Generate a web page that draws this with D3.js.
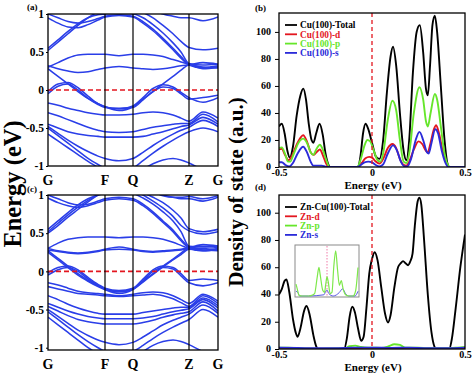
<!DOCTYPE html>
<html><head><meta charset="utf-8">
<script src="https://cdn.jsdelivr.net/npm/d3@7"></script>
<style>
body{margin:0;background:#fff}
svg{display:block}
text{font-family:"Liberation Serif","Times New Roman",serif;font-weight:bold}
</style>
</head><body>
<svg id="chart" width="474" height="373"></svg>
<script>
// ---------- data ----------
const kPoints = [0,10,20,30,40,50,57,71,85,95,105,115,125,133,141,155,170];
const kTickPos = [0,57,85,141,170];
const kTickLabels = ["G","F","Q","Z","G"];
const bandTicks = [-1,-0.5,0,0.5,1];

const bandsA = [
 [1.0,0.95,0.9,0.88,0.9,0.94,0.97,0.99,0.97,0.9,0.8,0.68,0.55,0.44,0.34,0.3,0.32],
 [0.95,0.88,0.83,0.82,0.86,0.92,0.96,0.98,0.96,0.88,0.78,0.66,0.53,0.42,0.33,0.29,0.31],
 [0.55,0.66,0.77,0.87,0.95,0.99,1.0,1.01,1.0,0.95,0.86,0.75,0.62,0.5,0.35,0.33,0.34],
 [0.52,0.63,0.74,0.85,0.95,1.03,1.08,1.1,1.08,1.02,0.95,0.85,0.74,0.64,0.56,0.53,0.55],
 [1.15,1.1,1.08,1.05,1.05,1.06,1.07,1.1,1.12,1.1,1.05,1.0,0.97,0.95,0.95,0.91,0.96],
 [0.3,0.36,0.42,0.46,0.47,0.47,0.47,0.45,0.47,0.47,0.46,0.44,0.4,0.37,0.34,0.28,0.3],
 [0.32,0.28,0.25,0.23,0.24,0.27,0.29,0.31,0.29,0.28,0.27,0.28,0.3,0.32,0.33,0.36,0.34],
 [0.28,0.18,0.08,-0.02,-0.11,-0.18,-0.22,-0.27,-0.22,-0.12,-0.02,0.08,0.18,0.26,0.33,0.3,0.29],
 [-0.02,0.08,0.1,0.03,-0.08,-0.18,-0.22,-0.25,-0.21,-0.1,0.02,0.07,0.04,-0.03,-0.1,-0.16,-0.1],
 [-0.05,0.05,0.08,0.0,-0.11,-0.19,-0.23,-0.24,-0.23,-0.13,-0.02,0.04,0.02,-0.05,-0.12,-0.1,-0.07],
 [-0.17,-0.2,-0.24,-0.27,-0.3,-0.32,-0.33,-0.33,-0.32,-0.3,-0.29,-0.3,-0.33,-0.37,-0.41,-0.29,-0.37],
 [-0.3,-0.34,-0.39,-0.44,-0.49,-0.53,-0.55,-0.56,-0.55,-0.52,-0.49,-0.47,-0.45,-0.44,-0.44,-0.32,-0.42],
 [-0.45,-0.5,-0.55,-0.58,-0.6,-0.61,-0.62,-0.62,-0.62,-0.61,-0.58,-0.55,-0.51,-0.48,-0.46,-0.36,-0.45],
 [-0.48,-0.57,-0.66,-0.74,-0.81,-0.87,-0.9,-0.93,-0.9,-0.82,-0.73,-0.65,-0.58,-0.53,-0.49,-0.4,-0.48],
 [-0.5,-0.6,-0.7,-0.8,-0.9,-0.98,-1.03,-1.1,-1.03,-0.93,-0.83,-0.74,-0.66,-0.6,-0.55,-0.5,-0.55],
 [-0.58,-0.67,-0.76,-0.85,-0.94,-1.02,-1.08,-1.15,-1.1,-1.04,-0.97,-0.92,-0.9,-0.92,-0.96,-1.05,-1.1]
];

const bandsC = [
 [1.0,0.95,0.9,0.87,0.88,0.92,0.95,0.97,0.95,0.88,0.78,0.66,0.54,0.42,0.32,0.28,0.3],
 [0.96,0.9,0.86,0.84,0.86,0.9,0.93,0.95,0.93,0.86,0.76,0.64,0.52,0.4,0.31,0.27,0.29],
 [0.55,0.66,0.77,0.87,0.95,1.0,1.02,1.04,1.02,0.96,0.88,0.78,0.66,0.52,0.33,0.32,0.33],
 [0.52,0.63,0.74,0.84,0.93,1.0,1.05,1.08,1.06,1.0,0.92,0.83,0.72,0.6,0.53,0.49,0.52],
 [0.5,0.6,0.71,0.81,0.91,1.0,1.05,1.1,1.08,1.03,0.97,0.9,0.8,0.7,0.56,0.52,0.55],
 [1.1,1.08,1.06,1.05,1.05,1.07,1.08,1.1,1.1,1.08,1.04,1.0,0.97,0.95,0.95,0.92,0.97],
 [1.06,1.04,1.03,1.03,1.04,1.06,1.08,1.1,1.1,1.08,1.04,0.99,0.97,0.97,0.98,0.95,0.99],
 [0.3,0.37,0.42,0.44,0.45,0.45,0.45,0.44,0.45,0.45,0.44,0.42,0.38,0.34,0.3,0.27,0.29],
 [0.3,0.27,0.25,0.24,0.25,0.27,0.29,0.32,0.29,0.27,0.26,0.27,0.28,0.29,0.31,0.35,0.33],
 [0.28,0.26,0.24,0.23,0.24,0.26,0.28,0.29,0.28,0.26,0.25,0.26,0.27,0.28,0.3,0.33,0.31],
 [0.27,0.17,0.07,-0.03,-0.12,-0.19,-0.23,-0.27,-0.23,-0.13,-0.03,0.07,0.16,0.24,0.3,0.3,0.28],
 [0.25,0.15,0.05,-0.05,-0.13,-0.2,-0.24,-0.29,-0.24,-0.14,-0.04,0.06,0.15,0.22,0.29,0.28,0.27],
 [-0.02,0.05,0.07,0.02,-0.08,-0.17,-0.22,-0.25,-0.22,-0.1,0.02,0.07,0.05,-0.03,-0.12,-0.1,-0.12],
 [-0.05,0.02,0.05,0.0,-0.1,-0.18,-0.23,-0.26,-0.23,-0.12,0.0,0.05,0.03,-0.06,-0.15,-0.19,-0.15],
 [-0.15,-0.18,-0.22,-0.26,-0.28,-0.29,-0.3,-0.32,-0.3,-0.28,-0.27,-0.28,-0.32,-0.37,-0.42,-0.3,-0.39],
 [-0.2,-0.23,-0.26,-0.29,-0.3,-0.31,-0.32,-0.33,-0.32,-0.31,-0.3,-0.32,-0.36,-0.41,-0.46,-0.32,-0.42],
 [-0.32,-0.37,-0.43,-0.48,-0.52,-0.55,-0.56,-0.56,-0.56,-0.54,-0.52,-0.5,-0.48,-0.47,-0.47,-0.35,-0.45],
 [-0.42,-0.47,-0.52,-0.56,-0.59,-0.61,-0.62,-0.62,-0.62,-0.61,-0.59,-0.56,-0.53,-0.51,-0.49,-0.37,-0.48],
 [-0.46,-0.52,-0.58,-0.63,-0.66,-0.68,-0.69,-0.69,-0.69,-0.67,-0.64,-0.6,-0.57,-0.55,-0.53,-0.4,-0.52],
 [-0.5,-0.59,-0.68,-0.77,-0.84,-0.9,-0.93,-0.96,-0.93,-0.86,-0.78,-0.7,-0.64,-0.6,-0.56,-0.44,-0.55],
 [-0.53,-0.63,-0.73,-0.83,-0.92,-1.0,-1.05,-1.1,-1.05,-0.97,-0.88,-0.8,-0.73,-0.68,-0.63,-0.5,-0.6],
 [-0.6,-0.7,-0.8,-0.9,-1.0,-1.08,-1.13,-1.2,-1.13,-1.05,-0.97,-0.92,-0.9,-0.92,-0.96,-1.05,-1.1]
];

const dosTicksY = [0,20,40,60,80,100];
const dosTicksX = [-0.5,0,0.5];

const cuTotal = [[-0.5,30],[-0.485,32],[-0.47,25],[-0.455,12],[-0.442,7],[-0.425,15],[-0.405,38],[-0.385,53],[-0.369,58],[-0.355,50],[-0.34,32],[-0.325,20],[-0.315,18],[-0.3,25],[-0.282,32],[-0.265,24],[-0.25,10],[-0.235,2],[-0.225,0],[-0.075,0],[-0.062,8],[-0.048,25],[-0.035,32],[-0.02,28],[0,18],[0.02,8],[0.04,6],[0.06,20],[0.08,55],[0.1,82],[0.113,89],[0.13,75],[0.15,40],[0.17,12],[0.185,5],[0.2,20],[0.22,70],[0.24,100],[0.257,105],[0.275,85],[0.29,58],[0.3,53],[0.312,75],[0.325,105],[0.338,112],[0.35,100],[0.37,60],[0.39,20],[0.405,3],[0.415,0],[0.5,0]];
const cuD = [[-0.5,13],[-0.485,13.5],[-0.468,9],[-0.448,5],[-0.428,9],[-0.4,18],[-0.37,23.5],[-0.35,19],[-0.33,11],[-0.315,9],[-0.298,11],[-0.28,13],[-0.265,9],[-0.248,3],[-0.23,0],[-0.075,0],[-0.055,3],[-0.035,6.5],[-0.015,7.5],[0,7],[0.02,4],[0.04,2.5],[0.06,6],[0.085,14],[0.11,17],[0.13,14],[0.15,6],[0.17,1.5],[0.185,1],[0.2,4],[0.225,13],[0.25,19],[0.27,17],[0.29,12],[0.3,11],[0.315,18],[0.333,28],[0.345,31],[0.36,25],[0.38,12],[0.4,3],[0.415,0],[0.5,0]];
const cuP = [[-0.5,14],[-0.485,14.5],[-0.468,10],[-0.452,4],[-0.44,4],[-0.42,10],[-0.395,18],[-0.37,21],[-0.35,18],[-0.33,11],[-0.315,9],[-0.3,13],[-0.28,16.5],[-0.265,13],[-0.245,5],[-0.228,0],[-0.08,0],[-0.06,6],[-0.04,16],[-0.025,20],[-0.01,19],[0.01,12],[0.03,5],[0.045,4],[0.06,10],[0.085,35],[0.11,49],[0.13,42],[0.15,20],[0.17,4],[0.185,3],[0.2,10],[0.225,40],[0.255,59],[0.275,50],[0.29,34],[0.3,30],[0.315,40],[0.338,54],[0.35,50],[0.37,30],[0.39,10],[0.41,1],[0.42,0],[0.5,0]];
const cuS = [[-0.5,3.5],[-0.485,3.5],[-0.465,1.5],[-0.445,0.5],[-0.425,3],[-0.4,10],[-0.37,15],[-0.35,11],[-0.33,4],[-0.315,1],[-0.29,1],[-0.27,1],[-0.25,0.3],[-0.23,0],[-0.08,0],[-0.06,1.5],[-0.04,3.5],[-0.02,4],[0,3.5],[0.02,1.5],[0.04,0.5],[0.06,2],[0.085,10],[0.113,16],[0.135,12],[0.155,4],[0.175,0.5],[0.19,0.5],[0.21,6],[0.235,20],[0.255,26],[0.275,20],[0.295,11],[0.305,10],[0.32,18],[0.34,28],[0.355,25],[0.375,12],[0.395,3],[0.41,0],[0.5,0]];

const znTotal = [[-0.5,40],[-0.485,44],[-0.47,50],[-0.46,51],[-0.445,42],[-0.425,22],[-0.41,12],[-0.4,9],[-0.385,15],[-0.365,28],[-0.352,31.5],[-0.335,25],[-0.315,10],[-0.3,2],[-0.29,0],[-0.15,0],[-0.135,8],[-0.12,24],[-0.106,31],[-0.092,27],[-0.075,15],[-0.058,6],[-0.045,9],[-0.03,30],[-0.015,55],[0,66],[0.014,71],[0.03,65],[0.05,45],[0.07,26],[0.086,19.5],[0.1,25],[0.12,45],[0.14,60],[0.155,63],[0.167,64.5],[0.18,63],[0.194,61.5],[0.205,64],[0.218,70],[0.23,90],[0.245,108],[0.255,111],[0.265,106],[0.28,80],[0.3,40],[0.32,12],[0.335,2],[0.345,0],[0.415,0],[0.43,8],[0.45,30],[0.475,60],[0.5,84]];
const znD = [[-0.5,0.3],[0.5,0.3]];
const znP = [[-0.5,1],[-0.45,1],[-0.4,0.5],[-0.3,0.3],[-0.15,0.5],[-0.12,2],[-0.09,2.5],[-0.06,1.5],[-0.02,1],[0,1],[0.05,0.8],[0.09,2],[0.12,3.5],[0.15,3],[0.18,1],[0.25,1],[0.3,0.5],[0.4,0.5],[0.46,1],[0.5,1.5]];
const znS = [[-0.5,1],[-0.4,0.8],[-0.3,0.5],[-0.2,0.5],[-0.1,1],[0,1],[0.1,0.8],[0.2,1],[0.3,0.5],[0.4,0.5],[0.5,1]];

const insetP = [[-0.5,1.0],[-0.48,0.6],[-0.45,0.05],[-0.4,0],[-0.3,0],[-0.25,0.05],[-0.2,0.2],[-0.16,1.5],[-0.13,2.4],[-0.11,1.8],[-0.07,0.5],[-0.04,0.3],[-0.02,1.0],[0,1.6],[0.02,1.2],[0.05,0.2],[0.08,0.3],[0.11,2.5],[0.14,3.8],[0.17,2.2],[0.2,0.9],[0.23,1.3],[0.26,0.6],[0.3,0.1],[0.35,0],[0.42,0],[0.46,0.4],[0.5,2.4]];
const insetS = [[-0.5,0.4],[-0.47,0.3],[-0.44,0],[-0.3,0],[-0.05,0.1],[-0.02,0.4],[0,0.5],[0.03,0.2],[0.1,0],[0.2,0.3],[0.25,0.6],[0.3,0.2],[0.35,0],[0.45,0],[0.5,0.4]];

const legendB = ["Cu(100)-Total","Cu(100)-d","Cu(100)-p","Cu(100)-s"];
const legendD = ["Zn-Cu(100)-Total","Zn-d","Zn-p","Zn-s"];
const seriesColors = ["#000000","#e3161f","#66e62b","#2b2bd9"];

// ---------- drawing ----------
const svg = d3.select("#chart");
svg.append("rect").attr("width",474).attr("height",373).attr("fill","#fff");
const BAND = "#2a3ee8", RED = "#e3161f";
const fmt = d => String(d);

function bandPanel(id, bands, yDomain, top, bottom, labelBase, tag, tagY) {
  const x = d3.scaleLinear().domain([0,170]).range([48,218]);
  const y = d3.scaleLinear().domain(yDomain).range([bottom, top]);
  const g = svg.append("g");
  g.append("clipPath").attr("id", id).append("rect")
    .attr("x",48).attr("y",top).attr("width",170).attr("height",bottom-top);
  const line = d3.line().x((d,i)=>x(kPoints[i])).y(d=>y(d)).curve(d3.curveMonotoneX);
  const pg = g.append("g").attr("clip-path",`url(#${id})`);
  pg.selectAll("path.band").data(bands).join("path").attr("class","band")
    .attr("d", line).attr("fill","none").attr("stroke",BAND).attr("stroke-width",1.55);
  pg.append("line").attr("x1",48).attr("x2",218).attr("y1",y(0)).attr("y2",y(0))
    .attr("stroke",RED).attr("stroke-width",1.6).attr("stroke-dasharray","5,3");
  g.selectAll("line.kv").data(kTickPos.slice(1,4)).join("line").attr("class","kv")
    .attr("x1",d=>x(d)).attr("x2",d=>x(d)).attr("y1",top).attr("y2",bottom)
    .attr("stroke","#000").attr("stroke-width",1.2);
  g.append("rect").attr("x",48).attr("y",top).attr("width",170).attr("height",bottom-top)
    .attr("fill","none").attr("stroke","#000").attr("stroke-width",1.3);
  const ax = g.append("g").attr("transform","translate(48,0)")
    .call(d3.axisLeft(y).tickValues(bandTicks).tickFormat(fmt).tickSize(2).tickPadding(2));
  ax.select(".domain").remove();
  ax.selectAll("text").attr("font-size",11.5).attr("fill","#000")
    .style("font-family",'"Liberation Serif",serif').style("font-weight","bold");
  g.selectAll("text.kl").data(kTickPos).join("text").attr("class","kl")
    .attr("x",d=>x(d)).attr("y",labelBase).attr("text-anchor","middle")
    .attr("font-size",14).text((d,i)=>kTickLabels[i]);
  g.append("text").attr("x",27).attr("y",tagY).attr("font-size",9).text(tag);
}

bandPanel("clipA", bandsA, [-1,1], 14, 166, 185, "(a)", 10);
bandPanel("clipC", bandsC, [-1.03,1], 195, 350, 369, "(c)", 192);

function dosPanel(id, series, yMax, top, bottom, legend, tag, tagY, xlabY) {
  const x = d3.scaleLinear().domain([-0.5,0.5]).range([279,465]);
  const y = d3.scaleLinear().domain([0,yMax]).range([bottom, top]);
  const g = svg.append("g");
  g.append("clipPath").attr("id", id).append("rect")
    .attr("x",279).attr("y",top).attr("width",186).attr("height",bottom-top);
  const line = d3.line().x(d=>x(d[0])).y(d=>y(d[1])).curve(d3.curveMonotoneX);
  const pg = g.append("g").attr("clip-path",`url(#${id})`);
  pg.selectAll("path.dos").data(series).join("path").attr("class","dos")
    .attr("d", line).attr("fill","none").attr("stroke",(d,i)=>seriesColors[i]).attr("stroke-width",1.9);
  g.append("line").attr("x1",x(0)).attr("x2",x(0)).attr("y1",top).attr("y2",bottom)
    .attr("stroke",RED).attr("stroke-width",1.3).attr("stroke-dasharray","4,3");
  g.append("rect").attr("x",279).attr("y",top).attr("width",186).attr("height",bottom-top)
    .attr("fill","none").attr("stroke","#000").attr("stroke-width",1.3);
  const ay = g.append("g").attr("transform","translate(279,0)")
    .call(d3.axisLeft(y).tickValues(dosTicksY).tickSize(4).tickPadding(4));
  ay.select(".domain").remove();
  ay.selectAll(".tick text").attr("dy","0.25em");
  const axb = g.append("g").attr("transform",`translate(0,${bottom})`)
    .call(d3.axisBottom(x).tickValues(dosTicksX).tickFormat(fmt).tickSize(0).tickPadding(2));
  axb.select(".domain").remove();
  g.selectAll(".tick text").attr("font-size",10).attr("fill","#000")
    .style("font-family",'"Liberation Serif",serif').style("font-weight","bold");
  g.selectAll(".tick line").attr("stroke","#000");
  g.append("text").attr("x",373).attr("y",xlabY).attr("text-anchor","middle")
    .attr("font-size",11).text("Energy (eV)");
  g.append("text").attr("x",255).attr("y",tagY).attr("font-size",9).text(tag);
  const lg = g.append("g");
  legend.forEach((t,i)=>{
    const yy = top + 12 + i*9.3;
    lg.append("line").attr("x1",285).attr("x2",297).attr("y1",yy).attr("y2",yy)
      .attr("stroke",seriesColors[i]).attr("stroke-width",1.8);
    lg.append("text").attr("x",300).attr("y",yy+3.2).attr("font-size",9.3)
      .attr("fill",seriesColors[i]).text(t);
  });
  return {x, y, g};
}

dosPanel("clipB", [cuTotal,cuD,cuP,cuS], 114, 13, 167, legendB, "(b)", 11, 188.5);
dosPanel("clipD", [znTotal,znD,znP,znS], 113, 195, 349, legendD, "(d)", 190, 370.5);

// inset in (d)
{
  const ix = d3.scaleLinear().domain([-0.5,0.5]).range([296,358]);
  const iy = d3.scaleLinear().domain([0,4.2]).range([296,246]);
  const ig = svg.append("g");
  ig.append("rect").attr("x",295).attr("y",245).attr("width",64).attr("height",52)
    .attr("fill","#fff").attr("stroke","#8a8a8a").attr("stroke-width",1);
  ig.append("line").attr("x1",ix(0)).attr("x2",ix(0)).attr("y1",246).attr("y2",296)
    .attr("stroke","#f07aa8").attr("stroke-width",1).attr("stroke-dasharray","1.5,1.5");
  const il = d3.line().x(d=>ix(d[0])).y(d=>iy(d[1])).curve(d3.curveMonotoneX);
  ig.append("path").datum(insetS).attr("d",il).attr("fill","none").attr("stroke","#5a5ae0").attr("stroke-width",1);
  ig.append("path").datum(insetP).attr("d",il).attr("fill","none").attr("stroke","#7de84a").attr("stroke-width",1.2);
}

// big axis titles
svg.append("text").attr("transform","translate(21,184) rotate(-90)").attr("text-anchor","middle")
  .attr("font-size",24.5).text("Energy (eV)");
svg.append("text").attr("transform","translate(243,192) rotate(-90)").attr("text-anchor","middle")
  .attr("font-size",21).text("Density of state (a.u.)");
</script>
</body></html>
